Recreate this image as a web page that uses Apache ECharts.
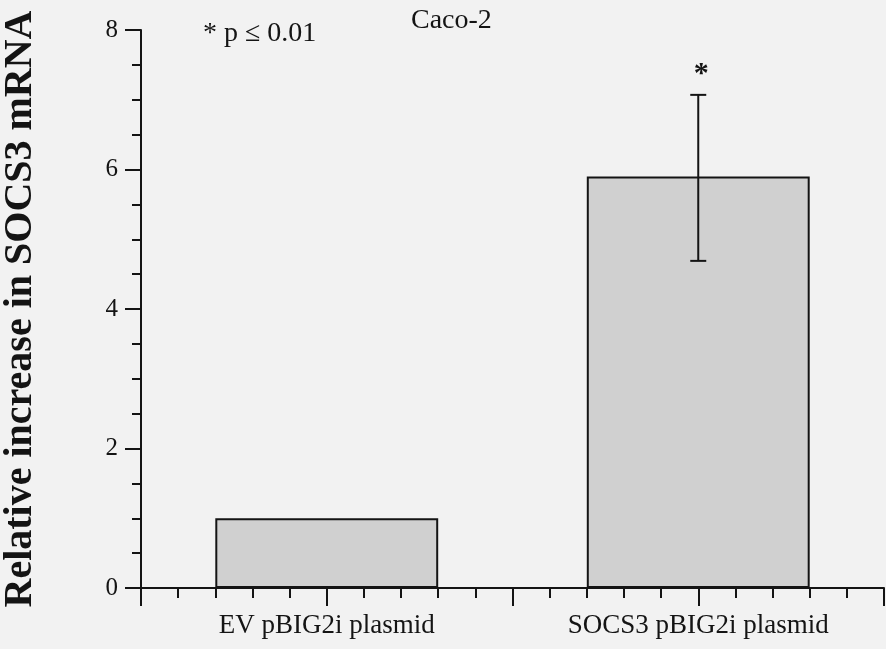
<!DOCTYPE html>
<html>
<head>
<meta charset="utf-8">
<script src="https://cdn.jsdelivr.net/npm/echarts@6/dist/echarts.min.js"></script>
<style>
html,body{margin:0;padding:0;background:#f2f2f2;}
#c{width:886px;height:649px;}
</style>
</head>
<body>
<div id="c"></div>
<script>
const categories = ['EV pBIG2i plasmid', 'SOCS3 pBIG2i plasmid'];
const meanValues = [1.0, 5.9];
const errorLow = [1.0, 4.69];
const errorHigh = [1.0, 7.07];
const significance = ['', '*'];
const yTicks = [0, 2, 4, 6, 8];
const yTitle = 'Relative increase in SOCS3 mRNA';
const pNote = '* p \u2264 0.01';
const panelTitle = 'Caco-2';

const serif = 'Liberation Serif';
const ink = '#141414';

const errData = categories.map((c, i) => [i, errorLow[i], errorHigh[i], significance[i]])
  .filter(d => d[2] > d[1]);

const chart = echarts.init(document.getElementById('c'), null, {renderer: 'canvas'});
chart.setOption({
  backgroundColor: '#f2f2f2',
  animation: false,
  grid: {left: 141, right: 2, top: 30, bottom: 61, containLabel: false, outerBoundsMode: 'none'},
  xAxis: [
    {
      type: 'category', data: categories,
      axisLine: {onZero: false, lineStyle: {color: ink, width: 2}},
      axisTick: {show: false},
      axisLabel: {fontFamily: serif, fontSize: 27, color: ink, margin: 24}
    },
    {
      type: 'value', min: 0, max: 20, interval: 5, position: 'bottom',
      axisLine: {show: false, onZero: false},
      axisTick: {show: true, inside: false, length: 18, lineStyle: {color: ink, width: 2}},
      minorTick: {show: true, splitNumber: 5, length: 10, lineStyle: {color: ink, width: 2}},
      axisLabel: {show: false},
      splitLine: {show: false}
    }
  ],
  yAxis: {
    type: 'value', position: 'left', min: yTicks[0], max: yTicks[yTicks.length - 1], interval: 2,
    axisLine: {show: true, onZero: false, lineStyle: {color: ink, width: 2}},
    axisTick: {show: true, inside: false, length: 16, lineStyle: {color: ink, width: 2}},
    minorTick: {show: true, splitNumber: 4, length: 9, lineStyle: {color: ink, width: 2}},
    splitLine: {show: false},
    axisLabel: {inside: false, fontFamily: serif, fontSize: 25, color: ink, margin: 23},
    name: yTitle, nameLocation: 'middle', nameGap: 100,
    nameTextStyle: {fontFamily: serif, fontSize: 40, fontWeight: 'bold', color: ink}
  },
  series: [
    {
      type: 'bar', xAxisIndex: 0, data: meanValues, barWidth: '60%',
      itemStyle: {color: '#d0d0d0', borderColor: ink, borderWidth: 2}
    },
    {
      type: 'custom', xAxisIndex: 0, data: errData, z: 5,
      renderItem: function (params, api) {
        const x = api.value(0);
        const lo = api.coord([x, api.value(1)]);
        const hi = api.coord([x, api.value(2)]);
        const w = 8;
        const style = {stroke: ink, lineWidth: 2};
        const children = [
          {type: 'line', shape: {x1: hi[0], y1: hi[1], x2: lo[0], y2: lo[1]}, style: style},
          {type: 'line', shape: {x1: hi[0] - w, y1: hi[1], x2: hi[0] + w, y2: hi[1]}, style: style},
          {type: 'line', shape: {x1: lo[0] - w, y1: lo[1], x2: lo[0] + w, y2: lo[1]}, style: style}
        ];
        const mark = errData[params.dataIndex][3];
        if (mark) {
          children.push({type: 'text', x: hi[0] + 3, y: hi[1] - 21,
            style: {text: mark, font: 'bold 30px ' + serif, fill: ink, align: 'center', verticalAlign: 'middle'}});
        }
        return {type: 'group', children: children};
      }
    }
  ],
  graphic: [
    {type: 'text', left: 203, top: 20, style: {text: pNote, font: '28px ' + serif, fill: ink}},
    {type: 'text', left: 411, top: 7, style: {text: panelTitle, font: '28px ' + serif, fill: ink}}
  ]
});
</script>
</body>
</html>
